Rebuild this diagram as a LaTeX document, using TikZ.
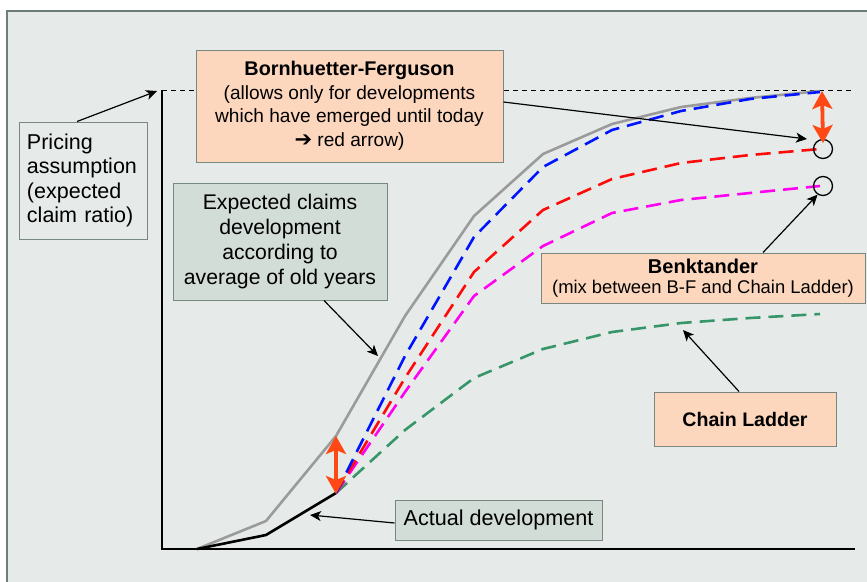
\documentclass[tikz,border=0pt]{standalone}
\usepackage{fontspec}
\setmainfont{Liberation Sans}
\newfontfamily\dejavu{DejaVu Sans}
\usetikzlibrary{arrows.meta}

\definecolor{bg}{RGB}{230,235,233}
\definecolor{framecol}{RGB}{110,125,118}
\definecolor{peach}{RGB}{252,215,190}
\definecolor{sage}{RGB}{211,221,216}
\definecolor{boxline}{RGB}{120,135,128}
\definecolor{curvegray}{RGB}{155,155,155}
\definecolor{cblue}{RGB}{0,20,255}
\definecolor{cred}{RGB}{255,10,10}
\definecolor{cmag}{RGB}{255,0,240}
\definecolor{cgreen}{RGB}{55,150,105}
\definecolor{hot}{RGB}{255,72,20}

\tikzset{
  box/.style={draw=boxline, line width=1pt, inner sep=0pt, align=center},
  peachbox/.style={box, fill=peach},
  sagebox/.style={box, fill=sage},
  plainbox/.style={box, fill=bg},
  arr/.style={-{Stealth[length=11pt,width=10pt,inset=3pt]}, line width=1.2pt, draw=black},
  redarr/.style={{Stealth[length=18pt,width=20pt,inset=4pt]}-{Stealth[length=18pt,width=20pt,inset=4pt]},
                 draw=hot, line width=3.8pt},
  dev/.style={line width=2.6pt, dash pattern=on 15pt off 8pt},
  ring/.style={circle, draw=black, line width=1.3pt, minimum size=19pt, inner sep=0pt}
}

\begin{document}
\begin{tikzpicture}[x=1pt,y=-1pt]
\useasboundingbox (0,0) rectangle (867,581);

% panel background
\begin{scope}
  \clip (0,0) rectangle (867,581);
  \fill[white] (0,0) rectangle (867,581);
  \draw[fill=bg, draw=framecol, line width=1.5pt] (7,11) rectangle (900,620);
\end{scope}

% axes and pricing level
\draw[line width=1.6pt] (162,90) -- (162,549) -- (855,549);
\draw[line width=0.8pt, dash pattern=on 5pt off 4pt] (162,90) -- (853,90);

% expected development (average of old years)
\draw[curvegray, line width=2.6pt, line join=round]
  (197,549) -- (266,521) -- (336,436) -- (405,316) -- (474,216) -- (543,154)
  -- (612,124) -- (681,107) -- (750,98) -- (820,91);

% projections
\draw[cgreen, dev] (336,493) -- (405,430) -- (474,378) -- (543,349) -- (612,332)
  -- (681,323) -- (750,318) -- (820,314);
\draw[cmag, dev] (336,493) -- (405,392) -- (474,296) -- (543,246) -- (612,213)
  -- (681,200) -- (750,193) -- (820,186);
\draw[cred, dev] (336,493) -- (405,378) -- (474,272) -- (543,210) -- (612,179)
  -- (681,163) -- (750,155) -- (820,149);
\draw[cblue, dev] (336,493) -- (405,356) -- (474,237) -- (543,167) -- (612,130)
  -- (681,111) -- (750,99) -- (820,92);

% actual development
\draw[black, line width=2.6pt, line join=round] (197,549) -- (266,535) -- (336,493);

% markers
\node[ring] (c1) at (823,149) {};
\node[ring] (c2) at (823,186) {};
\coordinate (gEnd) at (822,91);
\coordinate (gToday) at (336,436);
\coordinate (today) at (336,494);

% gaps
\draw[redarr] (gEnd) -- ([yshift=6pt]c1.center);
\draw[redarr] (gToday) -- (today);

% labels
\node[plainbox, minimum width=128pt, minimum height=117pt, text width=112pt, align=left,
      inner xsep=8pt, font=\fontsize{21.5}{24.5}\selectfont] (pr) at (83,180.5)
  {Pricing\\assumption\\(expected\\claim ratio)};

\node[peachbox, minimum width=307pt, minimum height=112pt,
      font=\fontsize{19.1}{23.5}\selectfont] (bf) at (349.5,106)
  {{\fontsize{19.8}{23.5}\selectfont\bfseries Bornhuetter-Ferguson}\\
   (allows only for developments\\which have emerged until today\\
   {\dejavu\bfseries\fontsize{21}{23.5}\selectfont ➔} red arrow)};

\node[sagebox, minimum width=214pt, minimum height=117pt,
      font=\fontsize{21.2}{25}\selectfont] (exp) at (280,241.5)
  {Expected claims\\development\\according to\\average of old years};

\node[peachbox, minimum width=324pt, minimum height=50pt,
      font=\fontsize{18.4}{20}\selectfont] (bk) at (703,278)
  {{\fontsize{20}{20}\selectfont\bfseries Benktander}\\(mix between B-F and Chain Ladder)};

\node[peachbox, minimum width=182pt, minimum height=54pt,
      font=\fontsize{19.6}{22}\selectfont\bfseries] (cl) at (745,419) {Chain Ladder};

\node[sagebox, minimum width=207pt, minimum height=40pt,
      font=\fontsize{21.6}{24}\selectfont] (act) at (498.5,520) {Actual development};

% pointers
\coordinate (prTip) at (157,91);
\coordinate (expTip) at (378,356);
\coordinate (actTip) at (310,515);
\coordinate (clTip) at (683,330);
\draw[arr] ([xshift=-6pt]pr.north) -- (prTip);
\draw[arr] ([yshift=4pt]bf.east) -- ([shift={(-16,-10)}]c1.center);
\draw[arr] ([xshift=44pt]exp.south) -- (expTip);
\draw[arr] ([yshift=-3pt]act.west) -- (actTip);
\draw[arr] ([xshift=60pt]bk.north) -- (c2.-122);
\draw[arr] ([xshift=-6pt]cl.north) -- (clTip);
\end{tikzpicture}
\end{document}
